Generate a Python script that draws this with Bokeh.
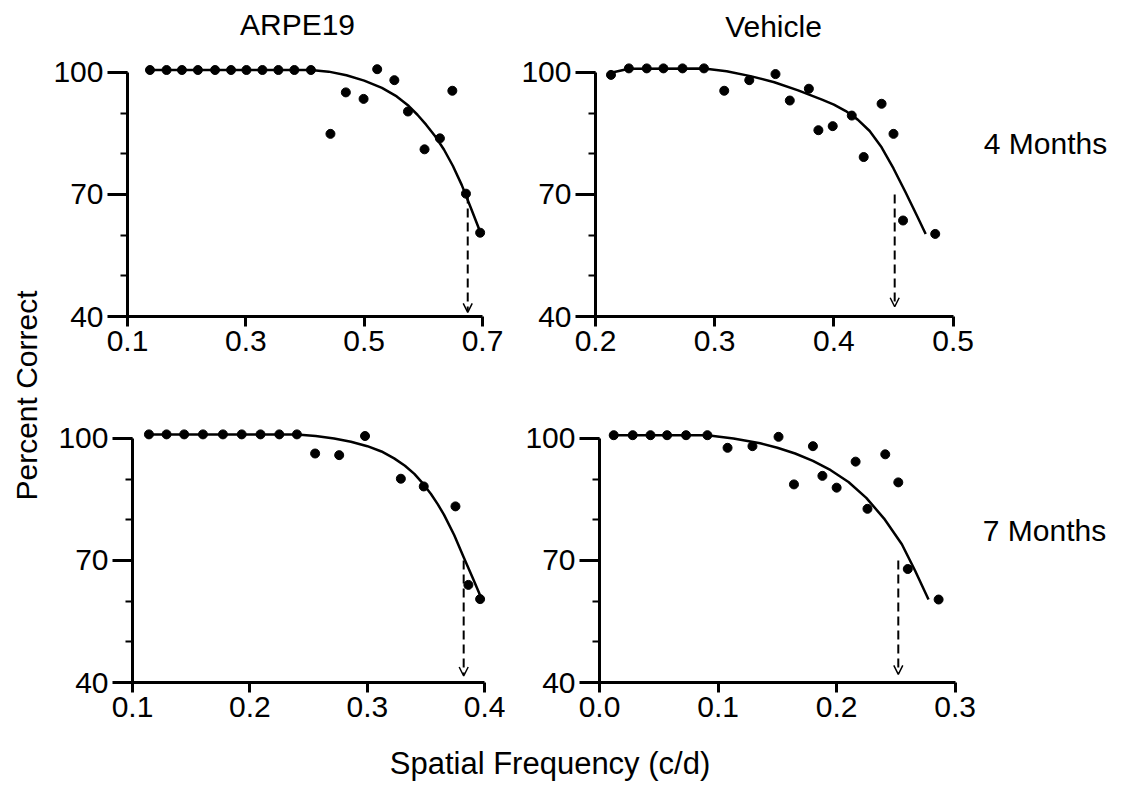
from bokeh.plotting import figure
from bokeh.layouts import row, column
from bokeh.models import Range1d, FixedTicker, NumeralTickFormatter, Arrow, OpenHead
from bokeh.core.properties import value
from bokeh.embed import file_html
from bokeh.resources import INLINE

FONT = "Liberation Sans"
FONT_SIZE = "30px"

# ---- data -------------------------------------------------------------
# Percent correct vs. spatial frequency (c/d), four groups.
arpe4_sf = [0.138, 0.166, 0.192, 0.219, 0.248, 0.275, 0.301, 0.328, 0.355, 0.382, 0.410,
            0.443, 0.469, 0.499, 0.522, 0.551, 0.574, 0.602, 0.628, 0.649, 0.672, 0.696]
arpe4_pc = [100.6, 100.6, 100.6, 100.6, 100.6, 100.6, 100.6, 100.6, 100.6, 100.6, 100.6,
            84.9, 95.1, 93.5, 100.8, 98.1, 90.4, 81.1, 83.8, 95.5, 70.2, 60.6]
arpe4_fit_sf = [0.138, 0.410, 0.440, 0.470, 0.500, 0.530, 0.555, 0.575, 0.590, 0.605,
                0.620, 0.635, 0.650, 0.665, 0.680, 0.695]
arpe4_fit_pc = [100.6, 100.6, 100.2, 99.3, 98.0, 96.2, 94.1, 91.8, 89.6, 87.1,
                84.3, 81.0, 77.0, 72.3, 66.8, 61.2]

veh4_sf = [0.213, 0.228, 0.243, 0.257, 0.273, 0.291, 0.308, 0.329, 0.351, 0.363, 0.379,
           0.387, 0.399, 0.415, 0.425, 0.440, 0.450, 0.458, 0.485]
veh4_pc = [99.4, 101.0, 101.0, 101.0, 101.0, 101.0, 95.5, 98.1, 99.6, 93.1, 96.0,
           85.8, 86.8, 89.4, 79.2, 92.3, 84.9, 63.6, 60.3]
veh4_fit_sf = [0.214, 0.228, 0.291, 0.310, 0.330, 0.350, 0.370, 0.390, 0.400, 0.410,
               0.420, 0.430, 0.440, 0.450, 0.460, 0.470, 0.477]
veh4_fit_pc = [100.0, 100.9, 101.0, 100.3, 99.1, 97.6, 95.6, 93.3, 92.1, 90.5,
               88.4, 85.6, 81.6, 76.4, 70.6, 64.6, 60.3]

arpe7_sf = [0.114, 0.129, 0.144, 0.160, 0.177, 0.193, 0.209, 0.225, 0.240,
            0.2555, 0.276, 0.298, 0.3285, 0.348, 0.375, 0.386, 0.396]
arpe7_pc = [101.0, 101.0, 101.0, 101.0, 101.0, 101.0, 101.0, 101.0, 101.0,
            96.3, 95.9, 100.6, 90.1, 88.2, 83.3, 64.0, 60.5]
arpe7_fit_sf = [0.114, 0.240, 0.256, 0.2717, 0.286, 0.300, 0.312, 0.3228, 0.332, 0.340,
                0.347, 0.354, 0.360, 0.3653, 0.374, 0.382, 0.390, 0.3966]
arpe7_fit_pc = [101.0, 101.0, 100.6, 100.0, 99.2, 98.1, 96.8, 95.1, 93.3, 91.3,
                89.0, 86.4, 83.8, 81.2, 76.2, 70.8, 65.5, 61.0]

veh7_sf = [0.012, 0.028, 0.043, 0.057, 0.073, 0.091, 0.108, 0.129, 0.151, 0.164, 0.180,
           0.188, 0.200, 0.216, 0.226, 0.241, 0.252, 0.260, 0.286]
veh7_pc = [100.8, 100.8, 100.8, 100.8, 100.8, 100.8, 97.7, 98.1, 100.4, 88.7, 98.1,
           90.8, 87.9, 94.3, 82.7, 96.1, 89.2, 67.9, 60.4]
veh7_fit_sf = [0.012, 0.091, 0.113, 0.1355, 0.150, 0.165, 0.180, 0.195, 0.210, 0.225,
               0.240, 0.255, 0.266, 0.2775]
veh7_fit_pc = [100.8, 100.8, 100.0, 98.8, 97.7, 96.3, 94.5, 92.2, 89.3, 85.4,
               80.3, 74.0, 67.6, 60.4]

# acuity threshold (70% correct) per group
thresholds = [0.675, 0.451, 0.382, 0.252]
threshold_level = 70
arrow_tips = [41.0, 42.4, 41.6, 42.0]

xticks_arpe4 = [0.1, 0.3, 0.5, 0.7]
xticks_veh4 = [0.2, 0.3, 0.4, 0.5]
xticks_arpe7 = [0.1, 0.2, 0.3, 0.4]
xticks_veh7 = [0.0, 0.1, 0.2, 0.3]
yticks = [40, 70, 100]
yminor = [40, 50, 60, 70, 80, 90, 100]

col_titles = ["ARPE19", "Vehicle"]
row_titles = ["4 Months", "7 Months"]
y_title = "Percent Correct"
x_title = "Spatial Frequency (c/d)"

# ---- layout constants (pixels) ----------------------------------------
FRAME_H = 257
Y_PPU = 245 / 60.0  # pixels per percent


def style_text(axis):
    axis.major_label_text_font = FONT
    axis.major_label_text_font_size = FONT_SIZE
    axis.major_label_text_color = "black"


def panel(w, h, left, top, right, x_ppu, xticks, sf, pc, fit_sf, fit_pc, thr, tip):
    frame_w = w - left - right
    bottom = h - top - FRAME_H
    x0 = xticks[0]
    p = figure(width=w, height=h, output_backend="svg", toolbar_location=None,
               x_range=Range1d(x0, x0 + frame_w / x_ppu),
               y_range=Range1d(40, 40 + FRAME_H / Y_PPU),
               min_border_left=left, min_border_right=right,
               min_border_top=top, min_border_bottom=bottom)
    p.xgrid.visible = False
    p.ygrid.visible = False
    p.outline_line_color = None
    p.background_fill_color = "white"
    p.border_fill_color = "white"

    xa = p.xaxis[0]
    xa.ticker = FixedTicker(ticks=xticks, minor_ticks=[])
    xa.formatter = NumeralTickFormatter(format="0.0")
    xa.bounds = (xticks[0], xticks[-1])
    xa.axis_line_width = 3
    xa.axis_line_color = "black"
    xa.major_tick_line_width = 3
    xa.major_tick_line_color = "black"
    xa.major_tick_out = 10
    xa.major_tick_in = 0
    xa.minor_tick_out = 0
    xa.minor_tick_in = 0
    xa.major_label_standoff = 4
    style_text(xa)

    ya = p.yaxis[0]
    ya.ticker = FixedTicker(ticks=yticks, minor_ticks=yminor)
    ya.bounds = (40, 100)
    ya.axis_line_width = 3
    ya.axis_line_color = "black"
    ya.major_tick_line_width = 3
    ya.major_tick_line_color = "black"
    ya.major_tick_out = 20
    ya.major_tick_in = 0
    ya.minor_tick_line_width = 2
    ya.minor_tick_line_color = "black"
    ya.minor_tick_out = 7
    ya.minor_tick_in = 0
    ya.major_label_standoff = 4
    style_text(ya)

    p.line(fit_sf, fit_pc, line_width=2.5, line_color="black", line_join="round")
    p.scatter(sf, pc, size=9, fill_color="black", line_color="black")
    p.add_layout(Arrow(end=OpenHead(size=9, line_width=1.5, line_color="black"),
                       x_start=thr, y_start=threshold_level, x_end=thr, y_end=tip,
                       line_dash="9 5", line_width=2, line_color="black"))
    return p


def strip(w, h, x0, y0):
    s = figure(width=w, height=h, output_backend="svg", toolbar_location=None,
               x_range=Range1d(x0, x0 + w), y_range=Range1d(y0 + h, y0),
               x_axis_location=None, y_axis_location=None, min_border=0)
    s.xgrid.visible = False
    s.ygrid.visible = False
    s.outline_line_color = None
    s.background_fill_color = "white"
    s.border_fill_color = "white"
    return s


def put_text(s, xs, ys, texts, angle=0.0, size=FONT_SIZE):
    s.text(x=xs, y=ys, text=texts, angle=angle,
           text_font=value(FONT), text_font_size=size, text_color="black",
           text_align="center", text_baseline="middle")


p1 = panel(460, 321, 82, 15, 15, 591.7, xticks_arpe4, arpe4_sf, arpe4_pc,
           arpe4_fit_sf, arpe4_fit_pc, thresholds[0], arrow_tips[0])
p2 = panel(471, 321, 90, 14, 12, 1192.0, xticks_veh4, veh4_sf, veh4_pc,
           veh4_fit_sf, veh4_fit_pc, thresholds[1], arrow_tips[1])
p3 = panel(460, 369, 87, 60, 15, 1174.4, xticks_arpe7, arpe7_sf, arpe7_pc,
           arpe7_fit_sf, arpe7_fit_pc, thresholds[2], arrow_tips[2])
p4 = panel(471, 369, 94, 59, 12, 1185.7, xticks_veh7, veh7_sf, veh7_pc,
           veh7_fit_sf, veh7_fit_pc, thresholds[3], arrow_tips[3])

# text strips; their ranges are page pixels (y grows downward)
left_strip = strip(45, 793, 0, 0)
put_text(left_strip, [25.5], [395], [y_title], angle=1.5707963267948966)

top_strip = strip(1078, 45, 45, 0)
put_text(top_strip, [297, 773], [24, 26], col_titles)

right_strip = strip(147, 690, 976, 45)
put_text(right_strip, [1045, 1044], [143, 530], row_titles)

bottom_strip = strip(1078, 58, 45, 735)
put_text(bottom_strip, [549.5], [762.5], [x_title], size="31px")

grid = column(row(p1, p2), row(p3, p4))
layout = row(left_strip, column(top_strip, row(grid, right_strip), bottom_strip))

open("out.html", "w").write(file_html(layout, INLINE))
